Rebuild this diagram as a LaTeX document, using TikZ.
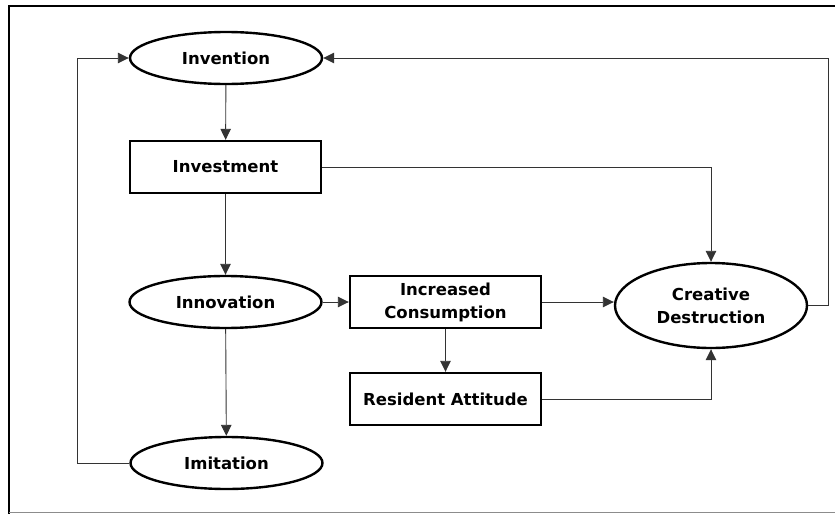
\documentclass[tikz,border=0pt]{standalone}
\usepackage{fontspec}
\setmainfont{DejaVu Sans}
\usetikzlibrary{shapes.geometric,arrows.meta}
\begin{document}
\begin{tikzpicture}[x=1pt,y=-1pt,
  every node/.style={font=\fontsize{16.5}{23}\selectfont\bfseries, align=center, inner sep=0pt},
  oval/.style={ellipse, draw=black, line width=2.4pt, minimum width=192pt, minimum height=52pt},
  box/.style={rectangle, draw=black, line width=2.4pt, minimum width=191pt, minimum height=52pt},
  link/.style={draw=black!80, line width=0.9pt, -{Triangle[length=11pt,width=10.5pt]}},
  frameline/.style={draw=black, line width=2.2pt}]
  \useasboundingbox (0,0) rectangle (835,514);
  % outer frame
  \draw[frameline] (836,6) -- (9,6) -- (9,513.5);
  \draw[draw=black!45, line width=1.2pt] (9,512.5) -- (836,512.5);

  % nodes
  \node[oval] (invn) at (226,58) {Invention};
  \node[box] (invs) at (225.5,167) {Investment};
  \node[oval] (inno) at (225.5,302) {Innovation};
  \node[oval] (imit) at (226.5,463) {Imitation};
  \node[box] (cons) at (445.5,302) {Increased\\Consumption};
  \node[box] (resi) at (445.5,399) {Resident Attitude};
  \node[oval, minimum height=85pt] (cdes) at (711,305.5) {Creative\\Destruction};

  % turning points of the feedback loops
  \coordinate (loopL) at (77,58);
  \coordinate (loopR) at (828,58);

  % connectors
  \draw[link] (invn) -- (invs);
  \draw[link] (invs) -- (inno);
  \draw[link] (inno) -- (imit);
  \draw[link] (inno) -- (cons);
  \draw[link] (cons) -- (resi);
  \draw[link] (cons.east) -- (cdes.west |- cons.east);
  \draw[link] (invs.east) -| (cdes.north);
  \draw[link] (resi.east) -| (cdes.south);
  \draw[link] (imit.west) -| (loopL) -- (invn.west);
  \draw[link] (cdes.east) -| (loopR) -- (invn.east);
\end{tikzpicture}
\end{document}
